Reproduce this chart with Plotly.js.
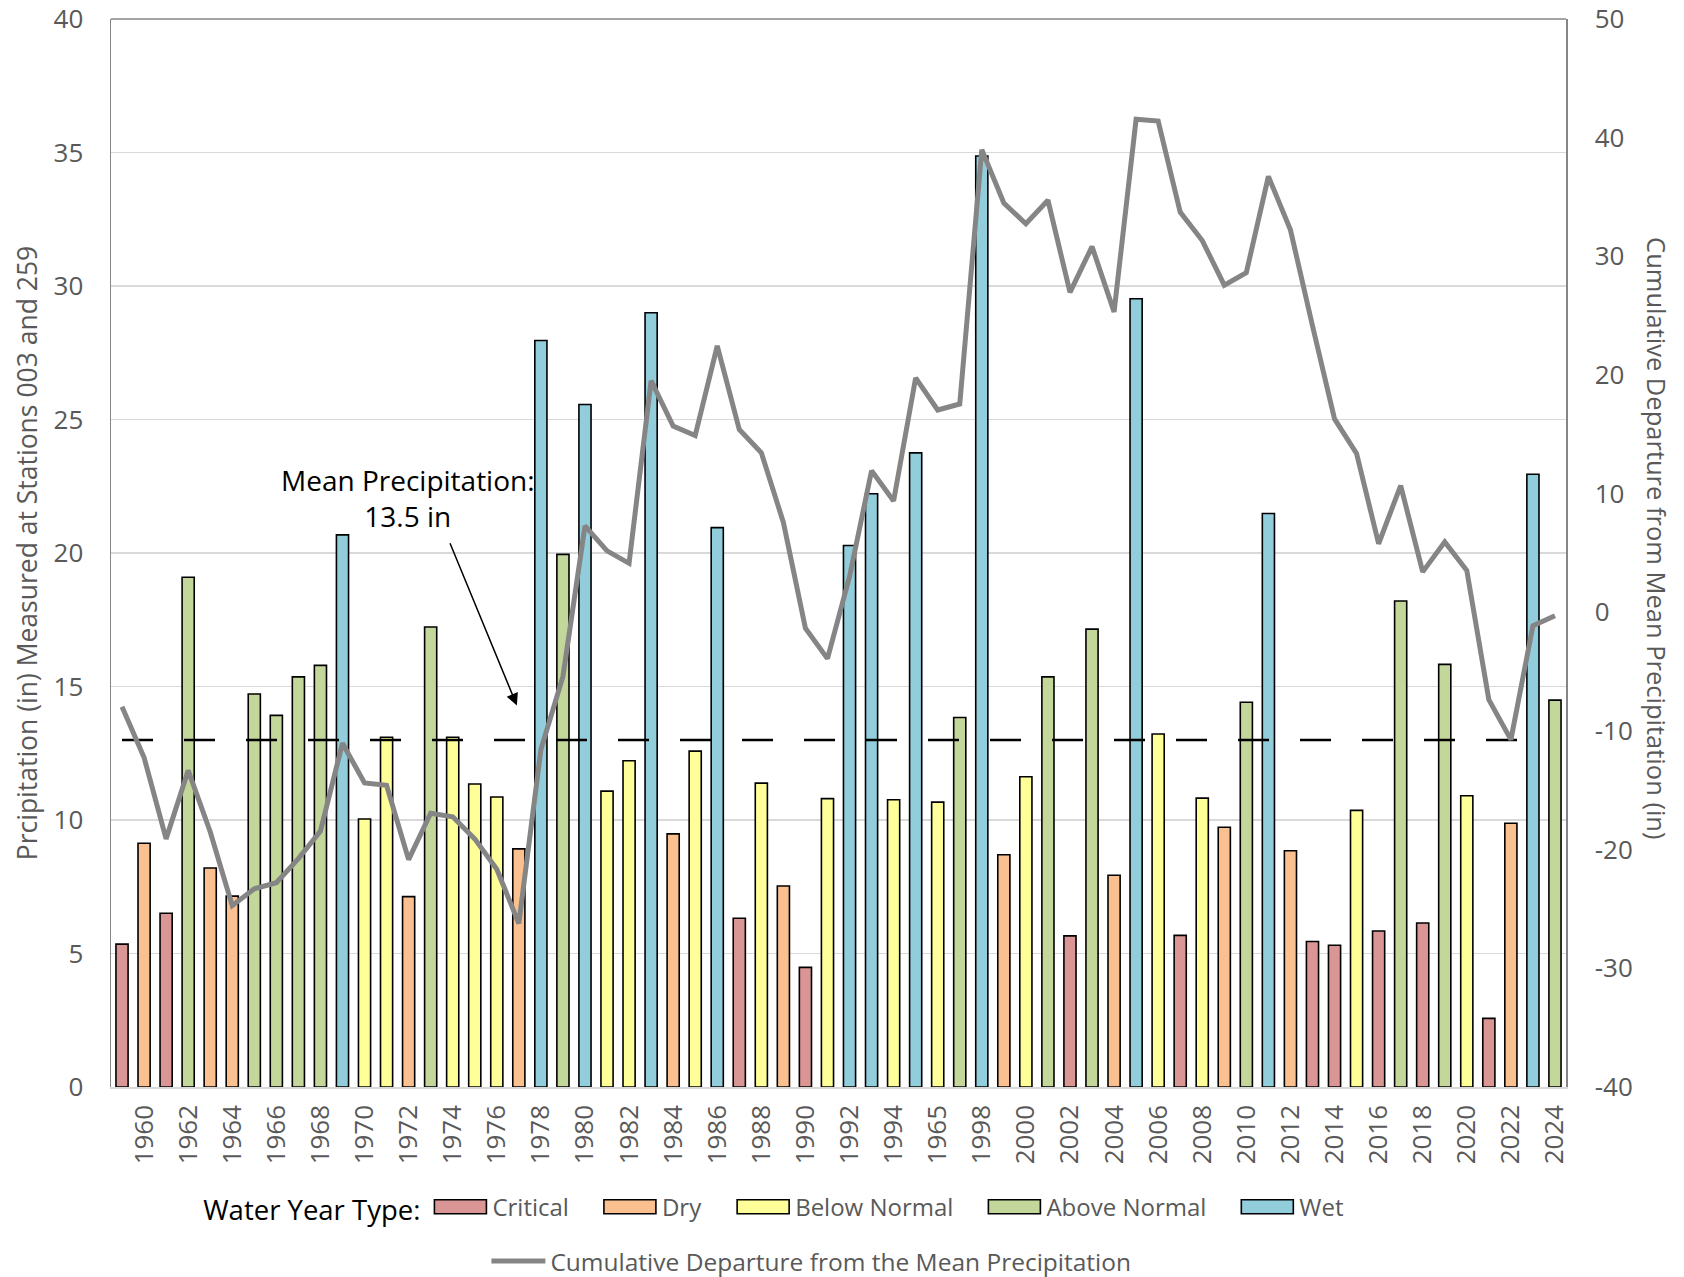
<!DOCTYPE html>
<html>
<head>
<meta charset="utf-8">
<script src="https://cdn.plot.ly/plotly-3.0.1.min.js"></script>
<style>html,body{margin:0;padding:0;background:#fff;}#chart{width:1684px;height:1277px;}</style>
</head>
<body>
<div id="chart"></div>
<script>
const years = ["1959","1960","1961","1962","1963","1964","1965","1966","1967","1968","1969","1970","1971","1972","1973","1974","1975","1976","1977","1978","1979","1980","1981","1982","1983","1984","1985","1986","1987","1988","1989","1990","1991","1992","1993","1994","1995","1996","1997","1998","1999","2000","2001","2002","2003","2004","2005","2006","2007","2008","2009","2010","2011","2012","2013","2014","2015","2016","2017","2018","2019","2020","2021","2022","2023","2024"];

const precip = [5.35,9.13,6.51,19.09,8.20,7.15,14.72,13.92,15.36,15.79,20.68,10.04,13.10,7.13,17.23,13.10,11.35,10.86,8.92,27.96,19.95,25.56,11.08,12.22,29.00,9.48,12.58,20.95,6.32,11.38,7.53,4.48,10.80,20.28,22.22,10.76,23.75,10.67,13.84,34.87,8.70,11.62,15.36,5.66,17.15,7.93,29.52,13.22,5.68,10.82,9.73,14.41,21.48,8.85,5.45,5.31,10.36,5.84,18.20,6.14,15.83,10.91,2.57,9.88,22.95,14.49];

const yearType = ["Critical","Dry","Critical","Above Normal","Dry","Dry","Above Normal","Above Normal","Above Normal","Above Normal","Wet","Below Normal","Below Normal","Dry","Above Normal","Below Normal","Below Normal","Below Normal","Dry","Wet","Above Normal","Wet","Below Normal","Below Normal","Wet","Dry","Below Normal","Wet","Critical","Below Normal","Dry","Critical","Below Normal","Wet","Wet","Below Normal","Wet","Below Normal","Above Normal","Wet","Dry","Below Normal","Above Normal","Critical","Above Normal","Dry","Wet","Below Normal","Critical","Below Normal","Dry","Above Normal","Wet","Dry","Critical","Critical","Below Normal","Critical","Above Normal","Critical","Above Normal","Below Normal","Critical","Dry","Wet","Above Normal"];

const cumulativeDeparture = [-7.96,-12.23,-19.09,-13.32,-18.49,-24.72,-23.30,-22.79,-20.75,-18.43,-11.03,-14.37,-14.58,-20.84,-16.93,-17.23,-19.09,-21.65,-26.22,-11.57,-5.40,7.28,5.18,4.13,19.52,15.70,14.89,22.46,15.40,13.45,7.58,-1.34,-3.90,3.00,11.94,9.39,19.76,17.05,17.56,38.99,34.49,32.74,34.73,26.97,30.82,25.32,41.55,41.40,33.73,31.33,27.57,28.63,36.74,32.23,24.15,16.30,13.39,5.78,10.68,3.41,5.94,3.53,-7.36,-10.73,-1.13,-0.29];

const typeOrder = ["Critical","Dry","Below Normal","Above Normal","Wet"];
const typeColors = ["#DA9694","#FAC090","#FFFF99","#C4D79B","#92CDDC"];

const tickYears = ["1960","1962","1964","1966","1968","1970","1972","1974","1976","1978","1980","1982","1984","1986","1988","1990","1992","1994","1996","1998","2000","2002","2004","2006","2008","2010","2012","2014","2016","2018","2020","2022","2024"];
const tickLabels = ["1960","1962","1964","1966","1968","1970","1972","1974","1976","1978","1980","1982","1984","1986","1988","1990","1992","1994","1965","1998","2000","2002","2004","2006","2008","2010","2012","2014","2016","2018","2020","2022","2024"];

const rightTickValues = [-40,-30,-20,-10,0,10,20,30,40,50];
const rightTickLabels = ["-40","-30","-20","-10","0","10","20","30","40","50"];

const meanLineValue = 13;
const meanLineYears = years.slice(0, 65);

const FONT = "'Open Sans', 'Noto Sans', sans-serif";
const GREY = "#595959";

const traces = [];
typeOrder.forEach((t, k) => {
  const xs = [], ys = [];
  years.forEach((y, i) => { if (yearType[i] === t) { xs.push(y); ys.push(precip[i]); } });
  traces.push({
    type: "bar", name: t, x: xs, y: ys, xaxis: "x", yaxis: "y",
    marker: { color: typeColors[k], line: { color: "#000000", width: 1.6 } },
    legend: "legend", hoverinfo: "x+y"
  });
});

traces.push({
  type: "scatter", mode: "lines", name: "Mean Precipitation",
  x: meanLineYears, y: meanLineYears.map(() => meanLineValue),
  line: { color: "#000000", width: 2.5, dash: "31px,31px" },
  showlegend: false, xaxis: "x", yaxis: "y"
});

traces.push({
  type: "scatter", mode: "lines", name: "Cumulative Departure from the Mean Precipitation",
  x: years, y: cumulativeDeparture, xaxis: "x", yaxis: "y2",
  line: { color: "#858585", width: 5 },
  legend: "legend2"
});

const layout = {
  width: 1684, height: 1277,
  margin: { l: 111, r: 118, t: 19, b: 190, autoexpand: false },
  paper_bgcolor: "#ffffff", plot_bgcolor: "#ffffff",
  font: { family: FONT, color: GREY },
  barmode: "overlay", bargap: 0.45,
  showlegend: true,
  xaxis: {
    type: "category", categoryorder: "array", categoryarray: years,
    range: [-0.5, 65.5], tickmode: "array", tickvals: tickYears, ticktext: tickLabels,
    tickangle: -90, tickfont: { size: 26, color: GREY, family: FONT },
    ticks: "outside", ticklen: 6, tickcolor: "rgba(0,0,0,0)",
    showline: true, linecolor: "#D9D9D9", linewidth: 1.5,
    showgrid: false, zeroline: false, fixedrange: true, automargin: false
  },
  yaxis: {
    range: [0, 40], dtick: 5, tick0: 0,
    showgrid: true, gridcolor: "#D9D9D9", gridwidth: 1.5,
    showline: true, linecolor: "#868686", linewidth: 1.5,
    ticks: "outside", ticklen: 21, tickcolor: "rgba(0,0,0,0)",
    tickfont: { size: 26, color: GREY, family: FONT },
    zeroline: false, automargin: false,
    title: { text: "Prcipitation (in) Measured at Stations 003 and 259", font: { size: 26.5, color: GREY, family: FONT }, standoff: 8 }
  },
  yaxis2: {
    overlaying: "y", side: "right", range: [-40, 50],
    tickmode: "array", tickvals: rightTickValues, ticktext: rightTickLabels,
    showgrid: false, showline: true, linecolor: "#868686", linewidth: 1.5,
    ticks: "outside", ticklen: 22, tickcolor: "rgba(0,0,0,0)",
    tickfont: { size: 26, color: GREY, family: FONT }, zeroline: false, automargin: false
  },
  legend: {
    orientation: "h", x: 0.062, xanchor: "left", y: -0.113, yanchor: "middle",
    title: { text: "Water Year Type:", side: "left", font: { size: 27.5, color: "#000000", family: FONT } },
    font: { size: 24, color: GREY, family: FONT }, bgcolor: "rgba(0,0,0,0)", traceorder: "normal",
    itemwidth: 54
  },
  legend2: {
    orientation: "h", x: 0.258, xanchor: "left", y: -0.163, yanchor: "middle",
    font: { size: 24.5, color: GREY, family: FONT }, itemwidth: 54, bgcolor: "rgba(0,0,0,0)"
  },
  shapes: [
    { type: "line", xref: "paper", yref: "paper", x0: 0, x1: 1, y0: 1, y1: 1, line: { color: "#868686", width: 1.5 } }
  ],
  annotations: [
    { xref: "x", yref: "y", x: 12.99, y: 22.06, text: "Mean Precipitation:<br>13.5 in", showarrow: false,
      font: { size: 28, color: "#000000", family: FONT }, align: "center" },
    { xref: "x", yref: "y", x: 17.91, y: 14.29, axref: "x", ayref: "y", ax: 14.85, ay: 20.42, text: "",
      showarrow: true, arrowhead: 2, arrowsize: 1.6, arrowwidth: 1.5, arrowcolor: "#000000", standoff: 0, startstandoff: 0 },
    { xref: "paper", yref: "paper", x: 1.0625, xanchor: "center", y: 0.514, yanchor: "middle", textangle: 90, showarrow: false,
      text: "Cumulative Departure from Mean Precipitation (in)", font: { size: 25.5, color: GREY, family: FONT } }
  ]
};

const ITEM_EXTRA_GAP = 24;
function fixLegend() {
  const gd = document.getElementById("chart");
  const leg = gd.querySelector("g.legend");
  if (!leg) return;
  leg.querySelectorAll("[clip-path]").forEach(e => e.removeAttribute("clip-path"));
  leg.querySelectorAll("g.traces").forEach((g, i) => {
    g.querySelectorAll("g.legendpoints path").forEach(p => {
      p.setAttribute("d", "M26,7H-26V-7H26Z");
      p.style.strokeWidth = "1.6px";
    });
    if (!g.dataset.shifted) {
      const tr = g.getAttribute("transform") || "";
      const m = tr.match(/translate\(\s*([-\d.e]+)[\s,]+([-\d.e]+)\s*\)/);
      if (m) {
        g.setAttribute("transform", "translate(" + (parseFloat(m[1]) + i * ITEM_EXTRA_GAP) + "," + m[2] + ")");
        g.dataset.shifted = "1";
      }
    }
  });
}

Plotly.newPlot("chart", traces, layout, { displayModeBar: false, staticPlot: true }).then(gd => {
  fixLegend();
  gd.on && gd.on("plotly_afterplot", fixLegend);
  setTimeout(fixLegend, 50);
});
</script>
</body>
</html>
